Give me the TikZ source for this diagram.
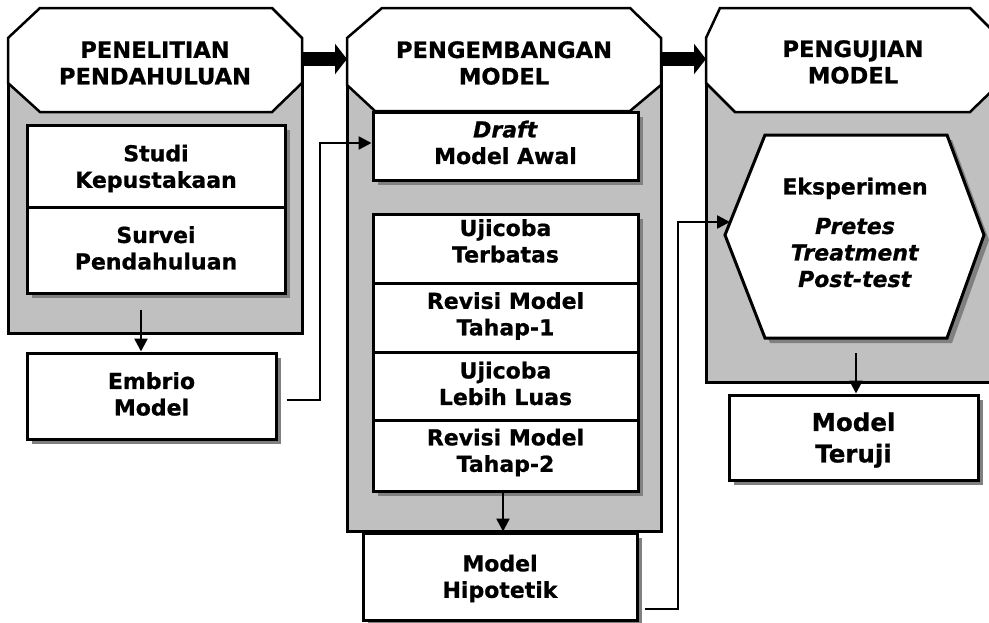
\documentclass[tikz,border=0pt]{standalone}
\usepackage{fontspec}
\setmainfont{DejaVu Sans}[BoldFeatures={FakeBold=0.8},BoldItalicFeatures={FakeBold=0.8}]
\usetikzlibrary{arrows.meta,shadows}
\definecolor{panelgray}{HTML}{C0C0C0}
\definecolor{shadowgray}{HTML}{808080}
\tikzset{
  panel/.style={draw=black,line width=3pt,fill=panelgray,rectangle,inner sep=0pt},
  octa/.style={draw=black,line width=2.5pt,fill=white,line join=miter},
  hexa/.style={draw=black,line width=3pt,fill=white,line join=miter},
  box/.style={draw=black,line width=3pt,fill=white,rectangle,inner sep=0pt,
    drop shadow={shadow xshift=5pt,shadow yshift=-5pt,fill=shadowgray,opacity=1}},
  txt/.style={align=center,inner sep=0pt,font=\bfseries\fontsize{22}{26.5}\selectfont},
  hdrtxt/.style={align=center,inner sep=0pt,font=\bfseries\fontsize{22.6}{26.5}\selectfont},
  bigtxt/.style={align=center,inner sep=0pt,font=\bfseries\fontsize{24.5}{31.5}\selectfont},
  big/.style={line width=14pt,-{Triangle[length=12pt,width=30pt]}},
  arr/.style={line width=2.5pt,-{Triangle[length=13pt,width=13pt]}},
}
\begin{document}
\begin{tikzpicture}[x=1pt,y=-1pt]
\useasboundingbox (0,0) rectangle (989,622);
\clip (0,0) rectangle (989,622);

% gray panels
\node[panel,minimum width=294pt,minimum height=273pt] (p1) at (155,196.5) {};
\node[panel,minimum width=314pt,minimum height=471pt] (p2) at (504,295.5) {};
\node[panel,minimum width=304pt,minimum height=322pt] (p3) at (858,221) {};

% octagon headers
\draw[octa] (40,8) -- (272,8) -- (302,38) -- (302,83) -- (272,112) -- (40,112) -- (8,83) -- (8,38) -- cycle;
\draw[octa] (382,8) -- (630,8) -- (661,38) -- (661,85) -- (630,111) -- (375,111) -- (347,85) -- (347,38) -- cycle;
\draw[octa] (720,8) -- (970,8) -- (1000,38) -- (1000,83) -- (970,112) -- (735,112) -- (706,83) -- (706,38) -- cycle;

\coordinate (o1e) at (302,59);
\coordinate (o2w) at (347,59);
\coordinate (o2e) at (661,59);
\coordinate (o3w) at (706,59);
\draw[big] (o1e) -- (o2w);
\draw[big] (o2e) -- (o3w);

\node[hdrtxt] (h1) at (155,63) {PENELITIAN\\PENDAHULUAN};
\node[hdrtxt] (h2) at (504,63) {PENGEMBANGAN\\MODEL};
\node[hdrtxt] (h3) at (853,62) {PENGUJIAN\\MODEL};

% left column boxes
\node[box,minimum width=258pt,minimum height=82pt] (studi) at (156,166) {};
\node[box,minimum width=258pt,minimum height=86pt] (survei) at (156,250) {};
\node[txt] (studit) at (156,168.5) {Studi\\Kepustakaan};
\node[txt] (surveit) at (156,248) {Survei\\Pendahuluan};

\node[box,minimum width=249pt,minimum height=86pt] (embrio) at (151.5,396) {};
\node[txt] (embriot) at (151.5,394) {Embrio\\Model};

% middle column boxes
\node[box,minimum width=265pt,minimum height=68pt] (draft) at (505.5,146) {};
\node[txt] (draftt) at (505.5,142.5) {\textit{Draft}\\Model Awal};

\node[box,minimum width=265pt,minimum height=69pt] (u1) at (505.5,248.5) {};
\node[box,minimum width=265pt,minimum height=69pt] (r1) at (505.5,317.5) {};
\node[box,minimum width=265pt,minimum height=68pt] (u2) at (505.5,386) {};
\node[box,minimum width=265pt,minimum height=71pt] (r2) at (505.5,455.5) {};
\node[txt] (u1t) at (505.5,241) {Ujicoba\\Terbatas};
\node[txt] (r1t) at (505.5,316) {Revisi Model\\Tahap-1};
\node[txt] (u2t) at (505.5,383.5) {Ujicoba\\Lebih Luas};
\node[txt] (r2t) at (505.5,452.5) {Revisi Model\\Tahap-2};

\node[box,minimum width=274pt,minimum height=87pt] (hipo) at (500,576.5) {};
\node[txt] (hipot) at (500,578.5) {Model\\Hipotetik};

% right column: hexagon
\begin{scope}[shift={(5,5)}]
  \fill[shadowgray] (765,135) -- (947,135) -- (984,235) -- (947,338) -- (765,338) -- (725,235) -- cycle;
\end{scope}
\draw[hexa] (765,135) -- (947,135) -- (984,235) -- (947,338) -- (765,338) -- (725,235) -- cycle;
\node[txt] (eks) at (855,232.5) {Eksperimen\\[13pt]\textit{Pretes}\\\textit{Treatment}\\\textit{Post-test}};
\coordinate (hxin) at (730,222);

\node[box,minimum width=249pt,minimum height=85pt] (teruji) at (853.5,437.5) {};
\node[bigtxt] (terujit) at (853.5,440) {Model\\Teruji};

% connectors
\coordinate (a1s) at (141,310);
\draw[arr] (a1s) -- (a1s |- embrio.north);

\coordinate (e1) at ([xshift=9pt,yshift=-4pt]embrio.east);
\coordinate (d1) at ([yshift=3pt]draft.west);
\coordinate (k1) at (320,0);
\draw[arr] (e1) -| (k1 |- d1) -- (d1);

\coordinate (r2s) at ([xshift=-2.5pt]r2.south);
\draw[arr] (r2s) -- (r2s |- hipo.north);

\coordinate (hs) at ([xshift=6pt,yshift=-32.5pt]hipo.east);
\coordinate (k2) at (678,0);
\draw[arr] (hs) -| (k2 |- hxin) -- (hxin);

\coordinate (a5s) at (856,353);
\draw[arr] (a5s) -- (a5s |- teruji.north);
\end{tikzpicture}
\end{document}
